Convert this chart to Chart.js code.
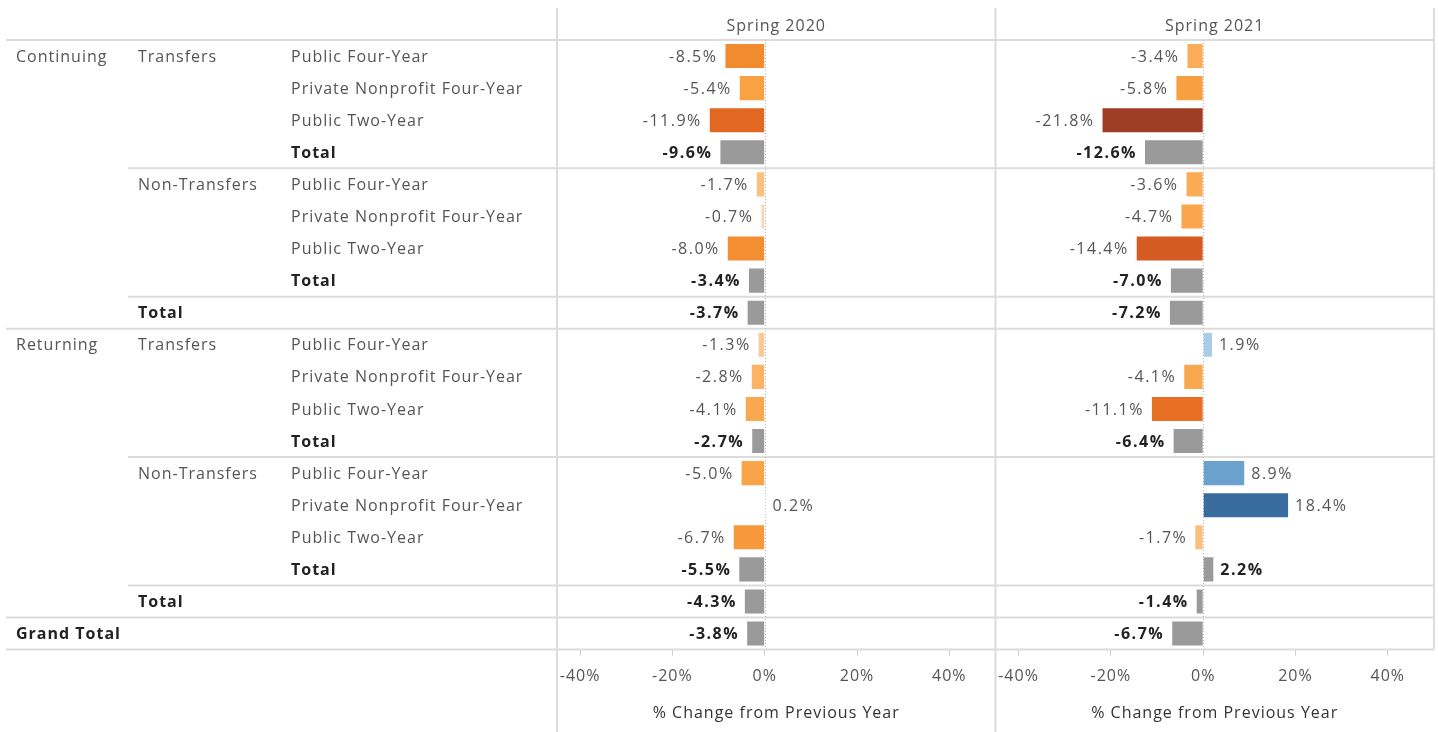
<!DOCTYPE html>
<html>
<head>
<meta charset="utf-8">
<script src="https://cdn.jsdelivr.net/npm/chart.js@4/dist/chart.umd.min.js"></script>
<style>
  html, body { margin: 0; background: #fff; }
</style>
</head>
<body>
<canvas id="myChart" width="1438" height="732"></canvas>
<script>
// row headers, three nesting levels
const studentType = ['Continuing', '', '', '', '', '', '', '', '', 'Returning', '', '', '', '', '', '', '', '', 'Grand Total'];
const transferType = ['Transfers', '', '', '', 'Non-Transfers', '', '', '', 'Total', 'Transfers', '', '', '', 'Non-Transfers', '', '', '', 'Total', ''];
const sector = [
  'Public Four-Year', 'Private Nonprofit Four-Year', 'Public Two-Year', 'Total',
  'Public Four-Year', 'Private Nonprofit Four-Year', 'Public Two-Year', 'Total',
  '',
  'Public Four-Year', 'Private Nonprofit Four-Year', 'Public Two-Year', 'Total',
  'Public Four-Year', 'Private Nonprofit Four-Year', 'Public Two-Year', 'Total',
  '', ''
];

const panelTitles = ['Spring 2020', 'Spring 2021'];
const spring2020 = [-8.5, -5.4, -11.9, -9.6, -1.7, -0.7, -8.0, -3.4, -3.7, -1.3, -2.8, -4.1, -2.7, -5.0, 0.2, -6.7, -5.5, -4.3, -3.8];
const spring2021 = [-3.4, -5.8, -21.8, -12.6, -3.6, -4.7, -14.4, -7.0, -7.2, 1.9, -4.1, -11.1, -6.4, 8.9, 18.4, -1.7, 2.2, -1.4, -6.7];
const tickValues = [-40, -20, 0, 20, 40];
const axisTitle = '% Change from Previous Year';

// styling
const FONT = '"Open Sans", "Noto Sans", sans-serif';
const SIZE = 16;
const TEXT = '#555';
const TEXT_BOLD = '#222';
const LINE = '#dcdcdc';
const TOTAL_COLOR = '#9a9a9a';
const negStops = [[0, '#f1e7dc'], [1.7, '#fdc07c'], [3.5, '#fbab56'], [5.5, '#f9a143'], [8.5, '#f28a2f'], [11.5, '#e56b22'], [14.4, '#d45b21'], [21.8, '#9e3d22']];
const posStops = [[0, '#eef1f4'], [1.9, '#a9cde5'], [8.9, '#6ba1cd'], [18.4, '#386b9e']];
// separator lines above these rows, starting at x
const separators = [[4, 128], [8, 128], [9, 6], [13, 128], [17, 128], [18, 6]];

const rowLabels = sector.map((s, i) => [studentType[i], transferType[i], s].join('|'));
const isTotal = rowLabels.map((_, i) => {
  const last = sector[i] || transferType[i] || studentType[i];
  return last === 'Total' || last === 'Grand Total';
});

function hex(c) { return [1, 3, 5].map(k => parseInt(c.slice(k, k + 2), 16)); }
function scaleColor(v) {
  const stops = v < 0 ? negStops : posStops;
  const a = Math.abs(v);
  for (let i = 1; i < stops.length; i++) {
    if (a <= stops[i][0] || i === stops.length - 1) {
      const [v0, c0] = stops[i - 1];
      const [v1, c1] = stops[i];
      const t = Math.min(1, (a - v0) / (v1 - v0));
      const p = hex(c0), q = hex(c1);
      return 'rgb(' + p.map((x, k) => Math.round(x + (q[k] - x) * t)).join(',') + ')';
    }
  }
}
const barColors = values => values.map((v, i) => isTotal[i] ? TOTAL_COLOR : scaleColor(v));

const xScale = () => ({
  type: 'linear',
  position: 'bottom',
  stack: 'panels',
  stackWeight: 1,
  min: -45,
  max: 50,
  afterBuildTicks: s => { s.ticks = tickValues.map(v => ({ value: v })); },
  ticks: { callback: v => v + '%', color: TEXT, font: { family: FONT, size: SIZE }, padding: 11, maxRotation: 0 },
  grid: { drawOnChartArea: false, tickLength: 6, tickColor: '#cfcfcf' },
  border: { display: false },
  title: { display: true, text: axisTitle, color: '#333', font: { family: FONT, size: SIZE }, padding: { top: 7, bottom: 7 } }
});

const tablePlugin = {
  id: 'table',
  beforeDraw(chart) {
    chart.ctx.letterSpacing = '1px';
  },
  beforeDatasetsDraw(chart) {
    const { ctx, chartArea } = chart;
    const y = chart.scales.y;
    const x1 = chart.scales.x1, x2 = chart.scales.x2;
    ctx.save();
    ctx.strokeStyle = LINE;
    ctx.lineWidth = 2;
    const hline = (x0, yy, xEnd) => { ctx.beginPath(); ctx.moveTo(x0, yy); ctx.lineTo(xEnd, yy); ctx.stroke(); };
    hline(6, chartArea.top, x2.right);
    hline(6, chartArea.bottom, x2.right);
    separators.forEach(([r, x0]) => {
      hline(x0, (y.getPixelForValue(r - 1) + y.getPixelForValue(r)) / 2, x2.right);
    });
    [[x1.left, 732], [x2.left, 732], [x2.right, chartArea.bottom]].forEach(([xx, yEnd]) => {
      ctx.beginPath(); ctx.moveTo(xx, 8); ctx.lineTo(xx, yEnd); ctx.stroke();
    });
    // zero lines
    ctx.strokeStyle = '#b8b8b8';
    ctx.lineWidth = 1;
    ctx.setLineDash([1, 2]);
    [x1, x2].forEach(s => {
      const zx = Math.round(s.getPixelForValue(0)) + 0.5;
      ctx.beginPath(); ctx.moveTo(zx, chartArea.top); ctx.lineTo(zx, chartArea.bottom); ctx.stroke();
    });
    ctx.setLineDash([]);

    // headers
    ctx.fillStyle = TEXT;
    ctx.font = SIZE + 'px ' + FONT;
    ctx.textAlign = 'center';
    ctx.textBaseline = 'middle';
    [x1, x2].forEach((s, i) => ctx.fillText(panelTitles[i], (s.left + s.right) / 2, 26));

    // row headers
    ctx.textAlign = 'left';
    const cols = [[studentType, 16], [transferType, 138], [sector, 291]];
    rowLabels.forEach((_, i) => {
      const yy = y.getPixelForValue(i) + 1;
      cols.forEach(([arr, xx]) => {
        const t = arr[i];
        if (!t) return;
        const bold = t === 'Total' || t === 'Grand Total';
        ctx.font = (bold ? 'bold ' : '') + SIZE + 'px ' + FONT;
        ctx.fillStyle = bold ? TEXT_BOLD : TEXT;
        ctx.fillText(t, xx, yy);
      });
    });
    ctx.restore();
  },
  afterDatasetsDraw(chart) {
    const { ctx } = chart;
    ctx.save();
    ctx.textBaseline = 'middle';
    ctx.letterSpacing = '1.5px';
    chart.data.datasets.forEach((ds, di) => {
      chart.getDatasetMeta(di).data.forEach((bar, i) => {
        const v = ds.data[i];
        const bold = isTotal[i];
        ctx.font = (bold ? 'bold ' : '') + SIZE + 'px ' + FONT;
        ctx.fillStyle = bold ? TEXT_BOLD : TEXT;
        if (v < 0) {
          ctx.textAlign = 'right';
          ctx.fillText(v.toFixed(1) + '%', bar.x - 8, bar.y + 1);
        } else {
          ctx.textAlign = 'left';
          ctx.fillText(v.toFixed(1) + '%', bar.x + 7, bar.y + 1);
        }
      });
    });
    ctx.restore();
  }
};

const ctx = document.getElementById('myChart').getContext('2d');
const chart = new Chart(ctx, {
  type: 'bar',
  data: {
    labels: rowLabels,
    datasets: [
      { label: panelTitles[0], data: spring2020, xAxisID: 'x1', backgroundColor: barColors(spring2020) },
      { label: panelTitles[1], data: spring2021, xAxisID: 'x2', backgroundColor: barColors(spring2021) }
    ]
  },
  options: {
    indexAxis: 'y',
    responsive: false,
    animation: false,
    layout: { padding: { left: 557, right: 2, top: 40, bottom: 2 } },
    datasets: { bar: { grouped: false, barPercentage: 0.75, categoryPercentage: 1 } },
    plugins: { legend: { display: false }, tooltip: { enabled: false } },
    scales: {
      y: { type: 'category', display: false },
      x1: xScale(),
      x2: xScale()
    }
  },
  plugins: [tablePlugin]
});
</script>
</body>
</html>
